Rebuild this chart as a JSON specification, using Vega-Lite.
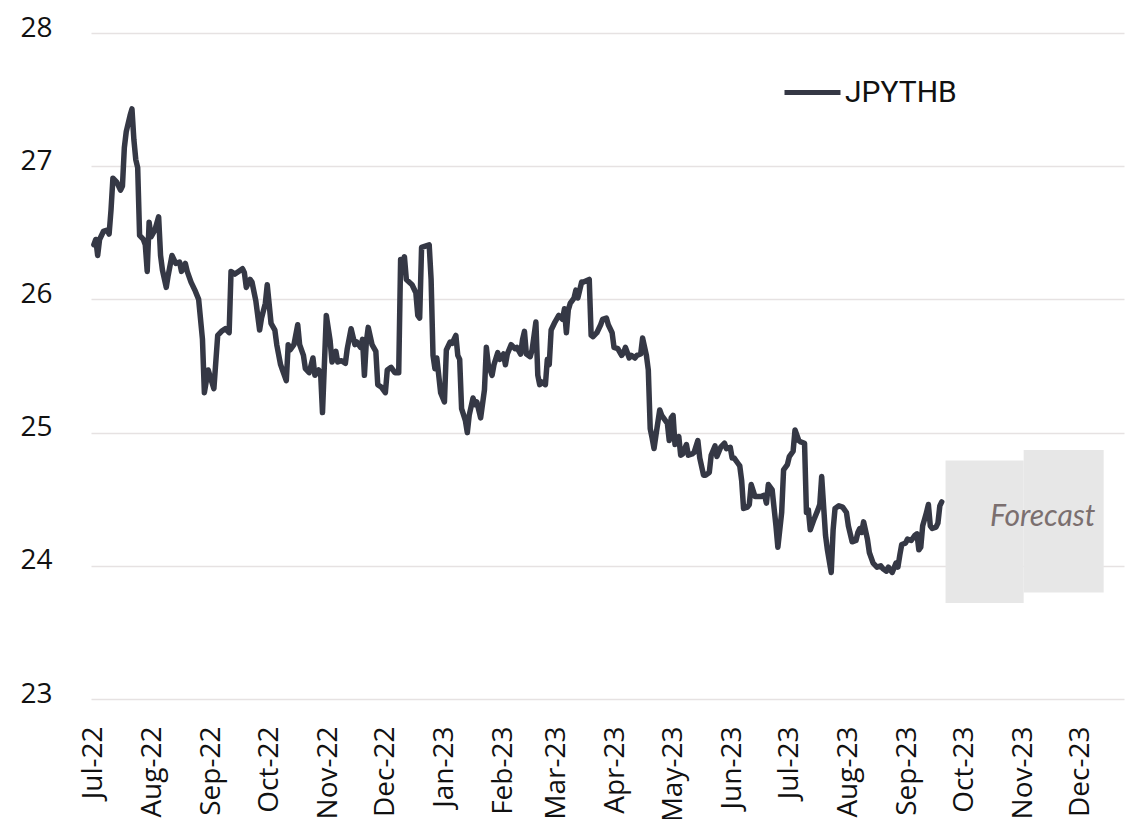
{
  "$schema": "https://vega.github.io/schema/vega-lite/v6.json",
  "autosize": "none",
  "width": 1033,
  "height": 666,
  "padding": {"left": 91, "top": 33, "right": 13, "bottom": 120},
  "background": "white",
  "config": {"view": {"stroke": null}},
  "datasets": {
    "fx": [
      {"date":"2022-07-01","rate":26.41},{"date":"2022-07-02","rate":26.45},{"date":"2022-07-03","rate":26.33},{"date":"2022-07-04","rate":26.45},{"date":"2022-07-06","rate":26.51},{"date":"2022-07-08","rate":26.52},{"date":"2022-07-09","rate":26.49},{"date":"2022-07-10","rate":26.67},{"date":"2022-07-11","rate":26.91},{"date":"2022-07-13","rate":26.88},{"date":"2022-07-15","rate":26.82},{"date":"2022-07-16","rate":26.85},{"date":"2022-07-17","rate":27.14},{"date":"2022-07-18","rate":27.26},{"date":"2022-07-20","rate":27.38},{"date":"2022-07-21","rate":27.43},{"date":"2022-07-22","rate":27.2},{"date":"2022-07-23","rate":27.05},{"date":"2022-07-24","rate":26.99},{"date":"2022-07-25","rate":26.48},{"date":"2022-07-27","rate":26.45},{"date":"2022-07-28","rate":26.41},{"date":"2022-07-29","rate":26.21},{"date":"2022-07-30","rate":26.58},{"date":"2022-07-31","rate":26.47},
      {"date":"2022-08-02","rate":26.52},{"date":"2022-08-04","rate":26.62},{"date":"2022-08-05","rate":26.33},{"date":"2022-08-06","rate":26.22},{"date":"2022-08-08","rate":26.09},{"date":"2022-08-09","rate":26.18},{"date":"2022-08-11","rate":26.33},{"date":"2022-08-13","rate":26.27},{"date":"2022-08-15","rate":26.28},{"date":"2022-08-16","rate":26.21},{"date":"2022-08-18","rate":26.27},{"date":"2022-08-19","rate":26.21},{"date":"2022-08-21","rate":26.13},{"date":"2022-08-23","rate":26.07},{"date":"2022-08-25","rate":26.0},{"date":"2022-08-27","rate":25.7},{"date":"2022-08-28","rate":25.3},{"date":"2022-08-30","rate":25.47},
      {"date":"2022-09-02","rate":25.33},{"date":"2022-09-04","rate":25.73},{"date":"2022-09-06","rate":25.76},{"date":"2022-09-08","rate":25.78},{"date":"2022-09-10","rate":25.75},{"date":"2022-09-11","rate":26.21},{"date":"2022-09-13","rate":26.19},{"date":"2022-09-15","rate":26.21},{"date":"2022-09-17","rate":26.23},{"date":"2022-09-18","rate":26.2},{"date":"2022-09-19","rate":26.09},{"date":"2022-09-21","rate":26.15},{"date":"2022-09-22","rate":26.13},{"date":"2022-09-24","rate":25.99},{"date":"2022-09-26","rate":25.77},{"date":"2022-09-27","rate":25.86},{"date":"2022-09-29","rate":25.97},{"date":"2022-09-30","rate":26.11},
      {"date":"2022-10-02","rate":25.82},{"date":"2022-10-04","rate":25.77},{"date":"2022-10-05","rate":25.66},{"date":"2022-10-07","rate":25.51},{"date":"2022-10-08","rate":25.47},{"date":"2022-10-10","rate":25.39},{"date":"2022-10-11","rate":25.66},{"date":"2022-10-12","rate":25.62},{"date":"2022-10-14","rate":25.66},{"date":"2022-10-16","rate":25.81},{"date":"2022-10-17","rate":25.66},{"date":"2022-10-19","rate":25.58},{"date":"2022-10-20","rate":25.48},{"date":"2022-10-22","rate":25.45},{"date":"2022-10-24","rate":25.56},{"date":"2022-10-25","rate":25.43},{"date":"2022-10-27","rate":25.47},{"date":"2022-10-28","rate":25.45},{"date":"2022-10-29","rate":25.15},{"date":"2022-10-31","rate":25.88},
      {"date":"2022-11-02","rate":25.69},{"date":"2022-11-03","rate":25.53},{"date":"2022-11-05","rate":25.61},{"date":"2022-11-06","rate":25.53},{"date":"2022-11-08","rate":25.54},{"date":"2022-11-10","rate":25.52},{"date":"2022-11-11","rate":25.63},{"date":"2022-11-13","rate":25.78},{"date":"2022-11-15","rate":25.66},{"date":"2022-11-16","rate":25.68},{"date":"2022-11-18","rate":25.64},{"date":"2022-11-19","rate":25.7},{"date":"2022-11-20","rate":25.43},{"date":"2022-11-21","rate":25.68},{"date":"2022-11-22","rate":25.79},{"date":"2022-11-24","rate":25.66},{"date":"2022-11-26","rate":25.61},{"date":"2022-11-27","rate":25.36},{"date":"2022-11-29","rate":25.34},
      {"date":"2022-12-01","rate":25.3},{"date":"2022-12-02","rate":25.47},{"date":"2022-12-04","rate":25.49},{"date":"2022-12-06","rate":25.45},{"date":"2022-12-08","rate":25.45},{"date":"2022-12-09","rate":26.3},{"date":"2022-12-10","rate":26.28},{"date":"2022-12-11","rate":26.32},{"date":"2022-12-12","rate":26.15},{"date":"2022-12-15","rate":26.11},{"date":"2022-12-17","rate":26.05},{"date":"2022-12-18","rate":25.88},{"date":"2022-12-19","rate":25.86},{"date":"2022-12-20","rate":26.39},{"date":"2022-12-22","rate":26.4},{"date":"2022-12-24","rate":26.41},{"date":"2022-12-25","rate":26.15},{"date":"2022-12-26","rate":25.58},{"date":"2022-12-27","rate":25.48},{"date":"2022-12-28","rate":25.56},{"date":"2022-12-29","rate":25.43},{"date":"2022-12-30","rate":25.3},
      {"date":"2023-01-01","rate":25.23},{"date":"2023-01-02","rate":25.62},{"date":"2023-01-04","rate":25.68},{"date":"2023-01-05","rate":25.67},{"date":"2023-01-07","rate":25.73},{"date":"2023-01-08","rate":25.58},{"date":"2023-01-09","rate":25.55},{"date":"2023-01-10","rate":25.18},{"date":"2023-01-12","rate":25.09},{"date":"2023-01-13","rate":25.0},{"date":"2023-01-14","rate":25.13},{"date":"2023-01-16","rate":25.26},{"date":"2023-01-17","rate":25.21},{"date":"2023-01-18","rate":25.23},{"date":"2023-01-20","rate":25.11},{"date":"2023-01-22","rate":25.32},{"date":"2023-01-23","rate":25.64},{"date":"2023-01-24","rate":25.51},{"date":"2023-01-26","rate":25.43},{"date":"2023-01-27","rate":25.51},{"date":"2023-01-29","rate":25.6},{"date":"2023-01-30","rate":25.55},
      {"date":"2023-02-01","rate":25.59},{"date":"2023-02-02","rate":25.51},{"date":"2023-02-03","rate":25.59},{"date":"2023-02-05","rate":25.66},{"date":"2023-02-07","rate":25.63},{"date":"2023-02-08","rate":25.64},{"date":"2023-02-10","rate":25.59},{"date":"2023-02-11","rate":25.7},{"date":"2023-02-12","rate":25.76},{"date":"2023-02-13","rate":25.59},{"date":"2023-02-15","rate":25.57},{"date":"2023-02-16","rate":25.62},{"date":"2023-02-18","rate":25.83},{"date":"2023-02-19","rate":25.43},{"date":"2023-02-20","rate":25.36},{"date":"2023-02-21","rate":25.38},{"date":"2023-02-23","rate":25.36},{"date":"2023-02-24","rate":25.55},{"date":"2023-02-25","rate":25.51},{"date":"2023-02-26","rate":25.77},{"date":"2023-02-28","rate":25.83},
      {"date":"2023-03-02","rate":25.88},{"date":"2023-03-04","rate":25.85},{"date":"2023-03-05","rate":25.93},{"date":"2023-03-06","rate":25.75},{"date":"2023-03-07","rate":25.92},{"date":"2023-03-08","rate":25.97},{"date":"2023-03-10","rate":26.01},{"date":"2023-03-11","rate":26.07},{"date":"2023-03-12","rate":26.01},{"date":"2023-03-14","rate":26.13},{"date":"2023-03-15","rate":26.13},{"date":"2023-03-18","rate":26.15},{"date":"2023-03-19","rate":25.73},{"date":"2023-03-20","rate":25.72},{"date":"2023-03-22","rate":25.75},{"date":"2023-03-24","rate":25.81},{"date":"2023-03-25","rate":25.85},{"date":"2023-03-27","rate":25.86},{"date":"2023-03-28","rate":25.81},{"date":"2023-03-30","rate":25.75},{"date":"2023-03-31","rate":25.64},
      {"date":"2023-04-02","rate":25.63},{"date":"2023-04-04","rate":25.58},{"date":"2023-04-05","rate":25.6},{"date":"2023-04-06","rate":25.64},{"date":"2023-04-08","rate":25.56},{"date":"2023-04-09","rate":25.58},{"date":"2023-04-11","rate":25.56},{"date":"2023-04-12","rate":25.58},{"date":"2023-04-14","rate":25.59},{"date":"2023-04-15","rate":25.71},{"date":"2023-04-17","rate":25.58},{"date":"2023-04-18","rate":25.47},{"date":"2023-04-19","rate":25.03},{"date":"2023-04-20","rate":24.96},{"date":"2023-04-21","rate":24.88},{"date":"2023-04-22","rate":24.98},{"date":"2023-04-24","rate":25.17},{"date":"2023-04-25","rate":25.13},{"date":"2023-04-27","rate":25.09},{"date":"2023-04-28","rate":25.07},{"date":"2023-04-29","rate":24.94},{"date":"2023-04-30","rate":25.11},
      {"date":"2023-05-01","rate":25.13},{"date":"2023-05-02","rate":24.91},{"date":"2023-05-04","rate":24.97},{"date":"2023-05-05","rate":24.83},{"date":"2023-05-06","rate":24.84},{"date":"2023-05-08","rate":24.91},{"date":"2023-05-09","rate":24.83},{"date":"2023-05-11","rate":24.84},{"date":"2023-05-12","rate":24.85},{"date":"2023-05-14","rate":24.94},{"date":"2023-05-15","rate":24.81},{"date":"2023-05-17","rate":24.68},{"date":"2023-05-18","rate":24.68},{"date":"2023-05-20","rate":24.7},{"date":"2023-05-21","rate":24.83},{"date":"2023-05-23","rate":24.9},{"date":"2023-05-24","rate":24.82},{"date":"2023-05-26","rate":24.89},{"date":"2023-05-28","rate":24.92},{"date":"2023-05-29","rate":24.88},{"date":"2023-05-31","rate":24.89},
      {"date":"2023-06-01","rate":24.81},{"date":"2023-06-02","rate":24.81},{"date":"2023-06-04","rate":24.77},{"date":"2023-06-05","rate":24.75},{"date":"2023-06-06","rate":24.64},{"date":"2023-06-07","rate":24.43},{"date":"2023-06-09","rate":24.44},{"date":"2023-06-10","rate":24.46},{"date":"2023-06-11","rate":24.61},{"date":"2023-06-13","rate":24.52},{"date":"2023-06-15","rate":24.52},{"date":"2023-06-16","rate":24.52},{"date":"2023-06-18","rate":24.53},{"date":"2023-06-19","rate":24.47},{"date":"2023-06-20","rate":24.61},{"date":"2023-06-22","rate":24.57},{"date":"2023-06-24","rate":24.3},{"date":"2023-06-25","rate":24.14},{"date":"2023-06-27","rate":24.4},{"date":"2023-06-28","rate":24.72},{"date":"2023-06-30","rate":24.76},
      {"date":"2023-07-01","rate":24.82},{"date":"2023-07-03","rate":24.86},{"date":"2023-07-04","rate":25.02},{"date":"2023-07-06","rate":24.94},{"date":"2023-07-07","rate":24.93},{"date":"2023-07-09","rate":24.92},{"date":"2023-07-10","rate":24.4},{"date":"2023-07-11","rate":24.42},{"date":"2023-07-12","rate":24.27},{"date":"2023-07-14","rate":24.35},{"date":"2023-07-16","rate":24.42},{"date":"2023-07-17","rate":24.46},{"date":"2023-07-18","rate":24.67},{"date":"2023-07-20","rate":24.23},{"date":"2023-07-21","rate":24.12},{"date":"2023-07-23","rate":23.95},{"date":"2023-07-24","rate":24.27},{"date":"2023-07-25","rate":24.43},{"date":"2023-07-27","rate":24.45},{"date":"2023-07-29","rate":24.44},{"date":"2023-07-31","rate":24.4},
      {"date":"2023-08-01","rate":24.3},{"date":"2023-08-03","rate":24.18},{"date":"2023-08-05","rate":24.19},{"date":"2023-08-06","rate":24.25},{"date":"2023-08-07","rate":24.28},{"date":"2023-08-08","rate":24.25},{"date":"2023-08-09","rate":24.33},{"date":"2023-08-11","rate":24.2},{"date":"2023-08-12","rate":24.1},{"date":"2023-08-14","rate":24.02},{"date":"2023-08-16","rate":23.99},{"date":"2023-08-18","rate":24.0},{"date":"2023-08-19","rate":23.98},{"date":"2023-08-21","rate":23.96},{"date":"2023-08-22","rate":23.99},{"date":"2023-08-24","rate":23.95},{"date":"2023-08-26","rate":24.02},{"date":"2023-08-27","rate":23.99},{"date":"2023-08-28","rate":24.08},{"date":"2023-08-29","rate":24.16},{"date":"2023-08-31","rate":24.17},
      {"date":"2023-09-01","rate":24.2},{"date":"2023-09-03","rate":24.19},{"date":"2023-09-05","rate":24.23},{"date":"2023-09-06","rate":24.24},{"date":"2023-09-07","rate":24.12},{"date":"2023-09-08","rate":24.14},{"date":"2023-09-09","rate":24.3},{"date":"2023-09-10","rate":24.35},{"date":"2023-09-11","rate":24.4},{"date":"2023-09-12","rate":24.46},{"date":"2023-09-13","rate":24.3},{"date":"2023-09-14","rate":24.28},{"date":"2023-09-16","rate":24.29},{"date":"2023-09-17","rate":24.32},{"date":"2023-09-18","rate":24.45},{"date":"2023-09-19","rate":24.48}
    ],
    "bands": [
      {"start":"2023-09-21","end":"2023-11-01","low":23.72,"high":24.79},
      {"start":"2023-11-01","end":"2023-12-13","low":23.8,"high":24.87}
    ],
    "note": [
      {"date":"2023-11-11","rate":24.37,"label":"Forecast"}
    ]
  },
  "layer": [
    {
      "data": {"name": "bands"},
      "mark": {"type": "rect", "color": "#e7e7e7"},
      "encoding": {
        "x": {"field": "start", "type": "temporal"},
        "x2": {"field": "end"},
        "y": {"field": "low", "type": "quantitative"},
        "y2": {"field": "high"}
      }
    },
    {
      "data": {"name": "fx"},
      "mark": {"type": "line", "strokeWidth": 5.5, "strokeJoin": "round", "strokeCap": "round"},
      "encoding": {
        "x": {
          "field": "date", "type": "temporal",
          "scale": {"type": "utc", "domain": [{"year": 2022, "month": 6, "date": 29, "hours": 12, "utc": true}, {"year": 2023, "month": 12, "date": 23, "hours": 16, "utc": true}]},
          "axis": {
            "title": null,
            "values": [
              {"year": 2022, "month": 7, "date": 1, "utc": true},{"year": 2022, "month": 8, "date": 1, "utc": true},{"year": 2022, "month": 9, "date": 1, "utc": true},{"year": 2022, "month": 10, "date": 1, "utc": true},{"year": 2022, "month": 11, "date": 1, "utc": true},{"year": 2022, "month": 12, "date": 1, "utc": true},
              {"year": 2023, "month": 1, "date": 1, "utc": true},{"year": 2023, "month": 2, "date": 1, "utc": true},{"year": 2023, "month": 3, "date": 1, "utc": true},{"year": 2023, "month": 4, "date": 1, "utc": true},{"year": 2023, "month": 5, "date": 1, "utc": true},{"year": 2023, "month": 6, "date": 1, "utc": true},
              {"year": 2023, "month": 7, "date": 1, "utc": true},{"year": 2023, "month": 8, "date": 1, "utc": true},{"year": 2023, "month": 9, "date": 1, "utc": true},{"year": 2023, "month": 10, "date": 1, "utc": true},{"year": 2023, "month": 11, "date": 1, "utc": true},{"year": 2023, "month": 12, "date": 1, "utc": true}
            ],
            "labelExpr": "utcFormat(datum.value, '%b-%y')",
            "labelAngle": -90, "labelAlign": "right", "labelBaseline": "middle",
            "labelFont": "Open Sans", "labelFontSize": 28, "labelColor": "#111111",
            "labelPadding": 27, "ticks": false, "domain": false, "grid": false,
            "labelOverlap": false, "labelBound": false, "labelFlush": false
          }
        },
        "y": {
          "field": "rate", "type": "quantitative",
          "scale": {"domain": [23, 28], "nice": false, "zero": false},
          "axis": {
            "title": null, "values": [23, 24, 25, 26, 27, 28], "format": "d",
            "labelFont": "Open Sans", "labelFontSize": 28, "labelColor": "#111111",
            "labelPadding": 39, "labelOffset": -5, "ticks": false, "domain": false,
            "grid": true, "gridColor": "#e6e2e2", "gridWidth": 1.5
          }
        },
        "color": {
          "datum": "JPYTHB", "type": "nominal",
          "scale": {"range": ["#353845"]},
          "legend": {
            "title": null, "orient": "none", "legendX": 691, "legendY": 29,
            "symbolType": "stroke", "symbolSize": 3136, "symbolStrokeWidth": 5,
            "labelFont": "Roboto", "labelFontSize": 30, "labelColor": "#111111",
            "labelOffset": 2, "labelLimit": 300
          }
        }
      }
    },
    {
      "data": {"name": "note"},
      "mark": {"type": "text", "font": "Lato", "fontSize": 30, "fontStyle": "italic", "color": "#7b6f6f", "align": "center", "baseline": "middle"},
      "encoding": {
        "x": {"field": "date", "type": "temporal"},
        "y": {"field": "rate", "type": "quantitative"},
        "text": {"field": "label"}
      }
    }
  ]
}
